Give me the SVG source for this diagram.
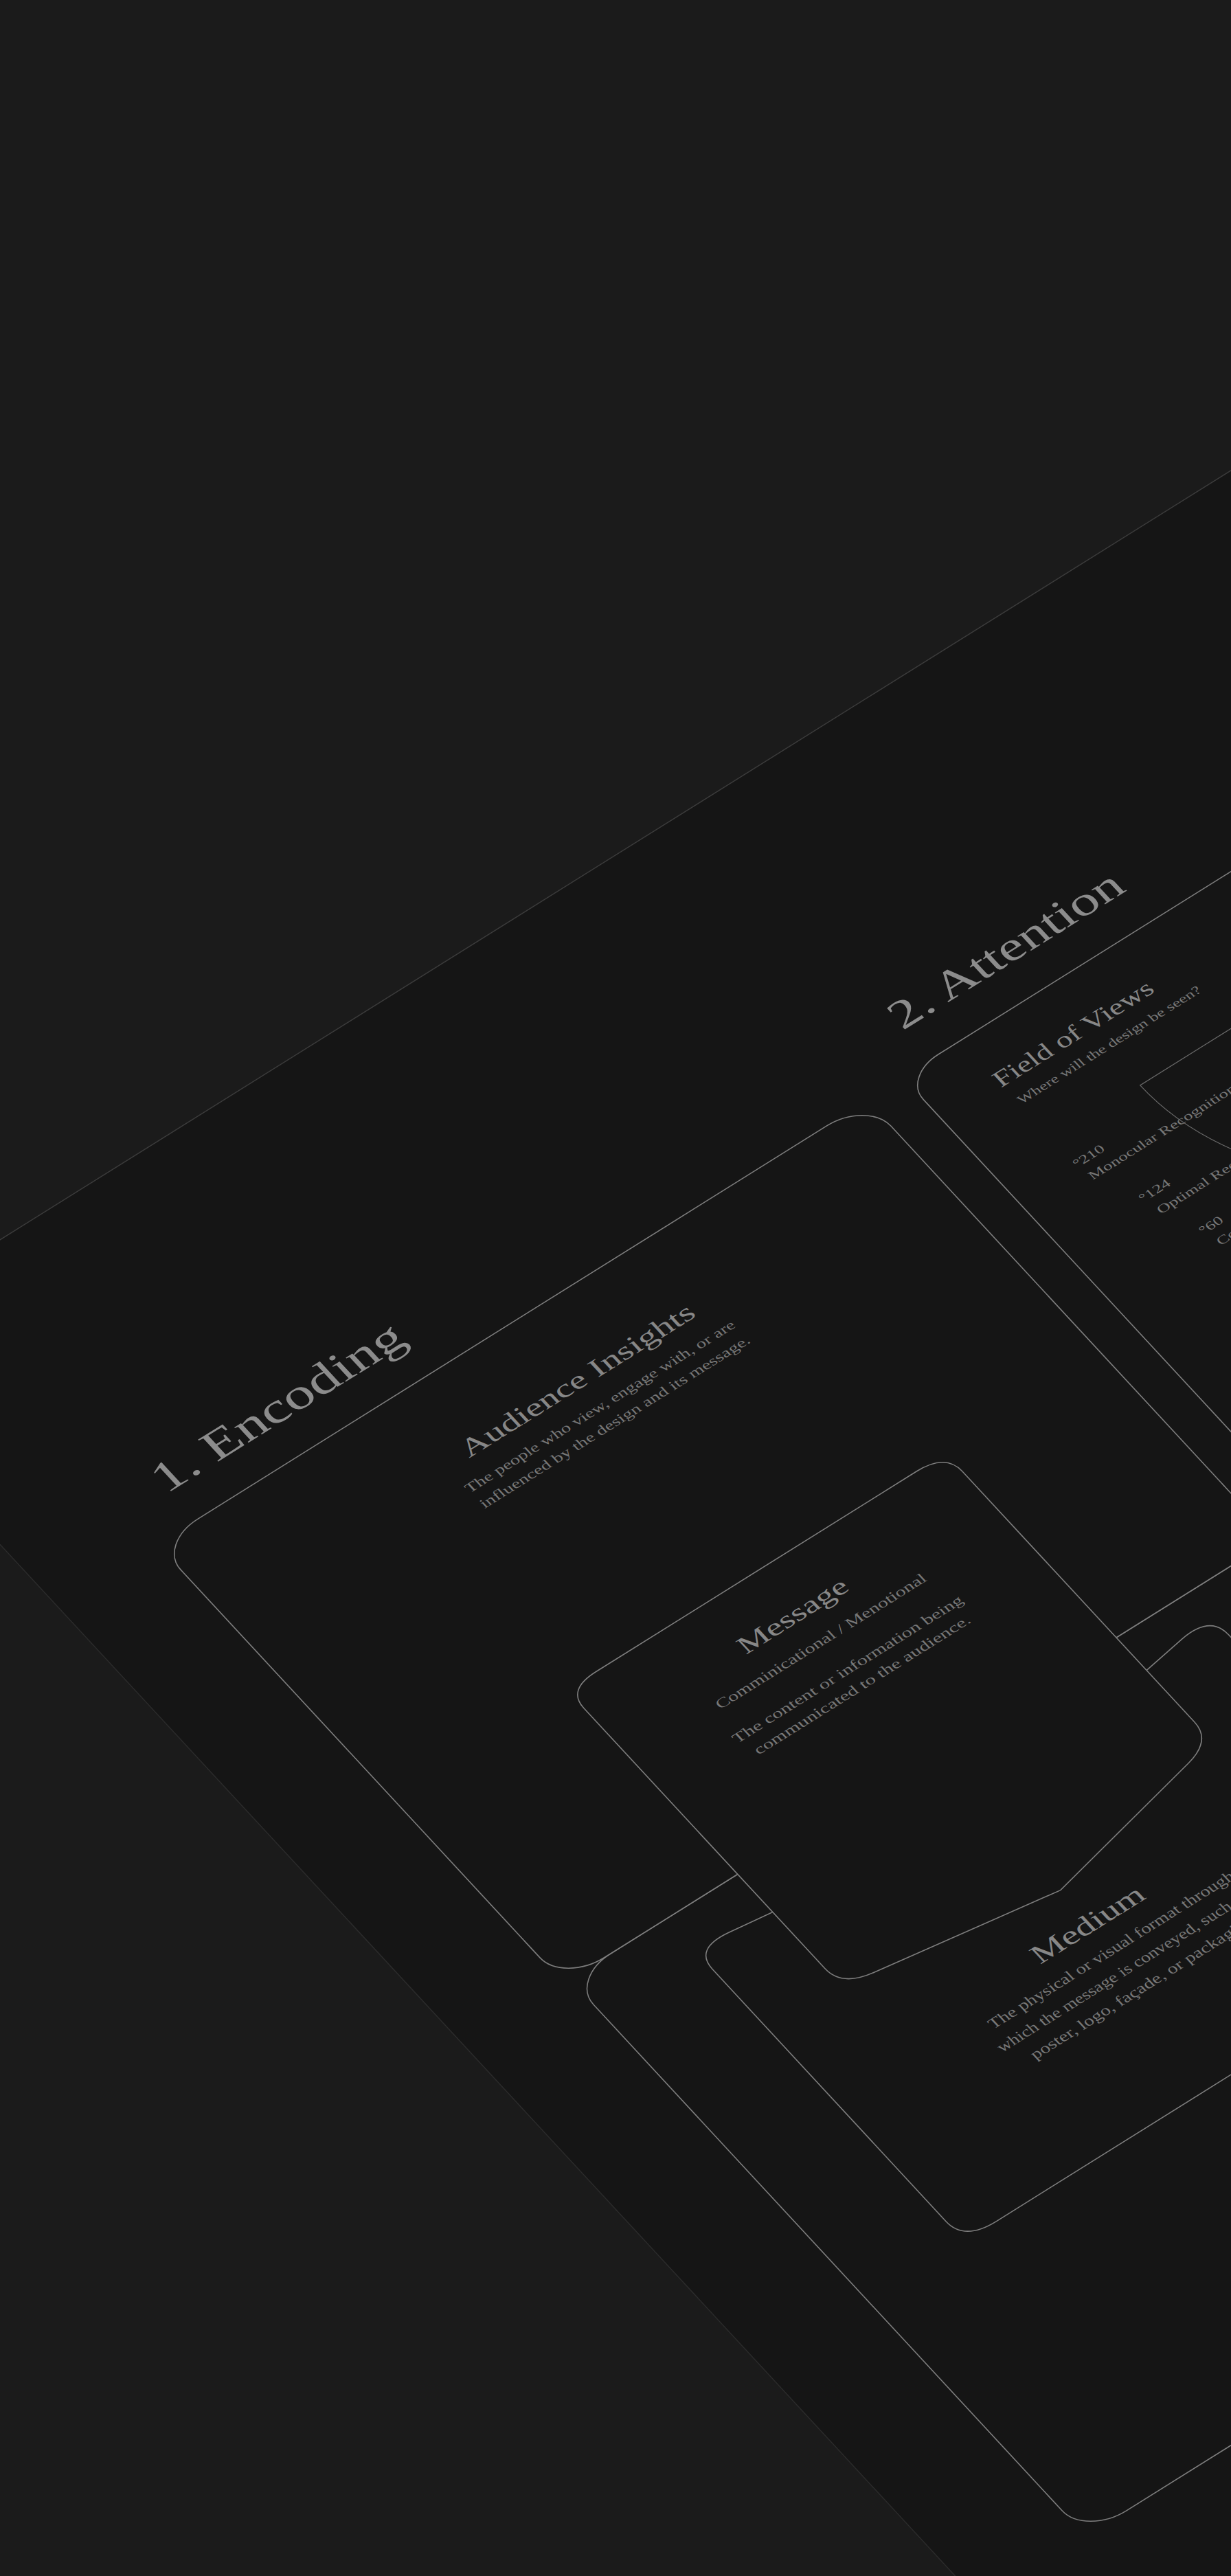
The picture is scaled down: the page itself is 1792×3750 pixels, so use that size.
<svg xmlns="http://www.w3.org/2000/svg" width="1792" height="3750" viewBox="0 0 1792 3750">
<defs>
<style>
.card{fill:#151515;stroke:#7e7e7e;stroke-width:1.6}
.t{font-family:"Liberation Serif","DejaVu Serif",serif}
.sec{fill:#8c8c8c}
.ttl{fill:#878787}
.body{fill:#777777}
.lbl{fill:#777777;font-size:26px}
.fov{fill:none;stroke:#6a6a6a;stroke-width:1.2}
</style>
</defs>
<rect width="1792" height="3750" fill="#1b1b1b"/>
<g transform="matrix(0.848 -0.53 0.4892 0.5283 -260.1 1967.4)">
  <g id="plane">
    <rect x="0" y="0" width="3200" height="4200" fill="#151515"/>
    <line x1="0" y1="0" x2="3200" y2="0" stroke="#3c3c3c" stroke-width="1.4" vector-effect="non-scaling-stroke"/>
    <line x1="0" y1="0" x2="0" y2="4200" stroke="#2c2c2c" stroke-width="1.4" vector-effect="non-scaling-stroke"/>
  </g>
  <g id="section-encoding-title">
    <text class="t sec" x="232" y="625" font-size="92" textLength="416" lengthAdjust="spacingAndGlyphs">1. Encoding</text>
  </g>
  <g id="section-attention-title">
    <text class="t sec" x="1499" y="620" font-size="88" textLength="386" lengthAdjust="spacingAndGlyphs">2. Attention</text>
  </g>
  <g id="card-lower">
    <rect class="card" x="182" y="1912" width="1230" height="1535" rx="70" vector-effect="non-scaling-stroke"/>
  </g>
  <g id="card-audience">
    <rect class="card" x="171" y="703" width="1219" height="1209" rx="70" vector-effect="non-scaling-stroke"/>
    <text class="t ttl" x="597" y="893" font-size="55" textLength="392" lengthAdjust="spacingAndGlyphs">Audience Insights</text>
    <text class="t body" x="562" y="955" font-size="29" textLength="458" lengthAdjust="spacingAndGlyphs">The people who view, engage with, or are</text>
    <text class="t body" x="563" y="998" font-size="29" textLength="458" lengthAdjust="spacingAndGlyphs">influenced by the design and its message.</text>
  </g>
  <g id="card-field-of-views">
    <rect class="card" x="1452" y="700" width="1300" height="1200" rx="62" vector-effect="non-scaling-stroke"/>
    <text class="t ttl" x="1548" y="827" font-size="49" textLength="266" lengthAdjust="spacingAndGlyphs">Field of Views</text>
    <text class="t body" x="1554" y="878" font-size="26" textLength="310" lengthAdjust="spacingAndGlyphs">Where will the design be seen?</text>
    <path class="fov" d="M 3002 974 L 1702 974 A 650 650 0 0 0 3002 974" vector-effect="non-scaling-stroke"/>
    <text class="t lbl" x="1550" y="1050" font-size="29">°210</text>
    <text class="t lbl" x="1555" y="1088">Monocular Recognition</text>
    <text class="t lbl" x="1587" y="1182" font-size="29">°124</text>
    <text class="t lbl" x="1595" y="1222">Optimal Recognition</text>
    <text class="t lbl" x="1620" y="1304" font-size="29">°60</text>
    <text class="t lbl" x="1628" y="1342">Color Recognition</text>
  </g>
  <g id="card-medium">
    <path class="card" d="M 347 2050 Q 347 1995 401 2004 L 800 2075 L 1191 1986 Q 1245 1975 1245 2030 V 2745 Q 1245 2800 1190 2800 H 402 Q 347 2800 347 2745 Z" vector-effect="non-scaling-stroke"/>
    <text class="t ttl" x="708" y="2400" font-size="57" textLength="184" lengthAdjust="spacingAndGlyphs">Medium</text>
    <text class="t body" x="592" y="2462" font-size="32" textLength="416" lengthAdjust="spacingAndGlyphs">The physical or visual format through</text>
    <text class="t body" x="578" y="2512" font-size="32" textLength="444" lengthAdjust="spacingAndGlyphs">which the message is conveyed, such as a</text>
    <text class="t body" x="607" y="2561" font-size="32" textLength="386" lengthAdjust="spacingAndGlyphs">poster, logo, façade, or packaging.</text>
  </g>
  <g id="card-message">
    <path class="card" d="M 520 1404 H 1070 Q 1120 1404 1120 1454 V 2145 Q 1120 2195 1072 2210 L 805 2292 L 519 2232 Q 470 2222 470 2172 V 1454 Q 470 1404 520 1404 Z" vector-effect="non-scaling-stroke"/>
    <text class="t ttl" x="700" y="1538" font-size="53" textLength="180" lengthAdjust="spacingAndGlyphs">Message</text>
    <text class="t body" x="617" y="1606" font-size="30" textLength="356" lengthAdjust="spacingAndGlyphs">Comminicational / Menotional</text>
    <text class="t body" x="601" y="1684" font-size="30" textLength="390" lengthAdjust="spacingAndGlyphs">The content or information being</text>
    <text class="t body" x="613" y="1727" font-size="30" textLength="366" lengthAdjust="spacingAndGlyphs">communicated to the audience.</text>
  </g>
  <g id="connectors"/>
</g>
</svg>
